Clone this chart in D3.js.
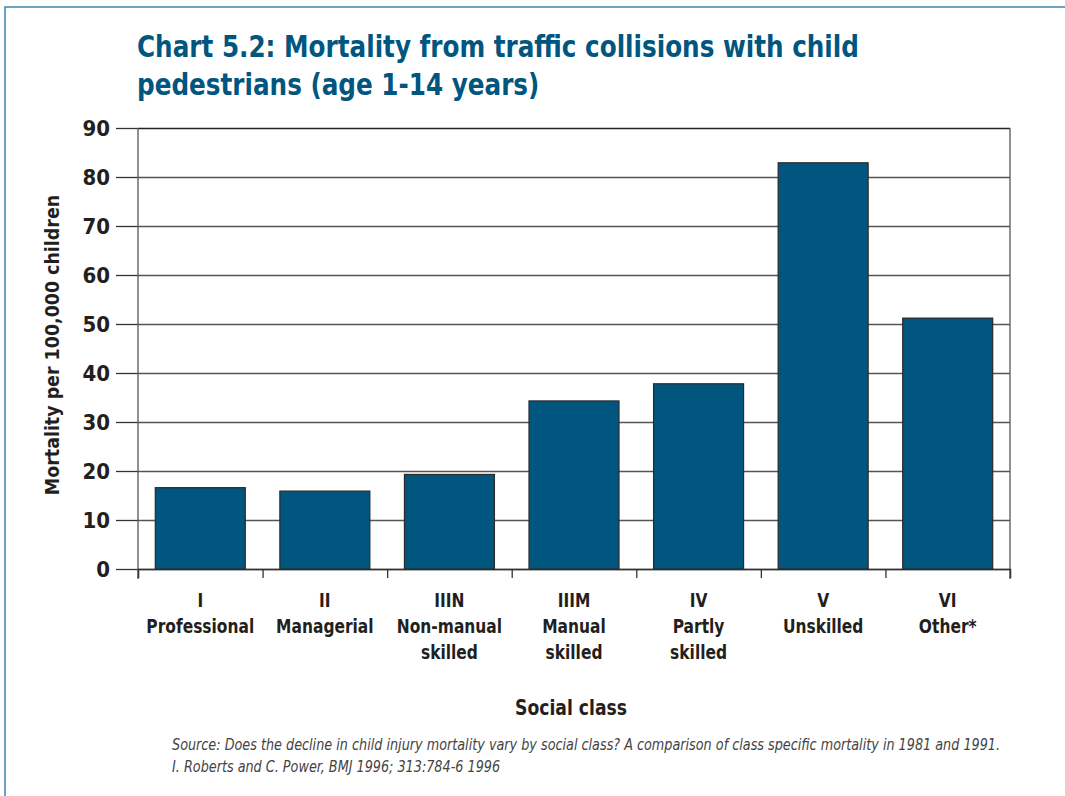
<!DOCTYPE html>
<html><head><meta charset="utf-8">
<script src="https://cdn.jsdelivr.net/npm/d3@7"></script>
<style>
html,body{margin:0;padding:0;background:#fff;}
svg{display:block;}
</style></head>
<body>
<svg id="chart" width="1065" height="796"></svg>
<script>
const classCodes = ["I","II","IIIN","IIIM","IV","V","VI"];
const classNames = [["Professional"],["Managerial"],["Non-manual","skilled"],["Manual","skilled"],["Partly","skilled"],["Unskilled"],["Other*"]];
const mortality = [16.6, 15.9, 19.3, 34.3, 37.8, 82.9, 51.2];
const yTicks = [0,10,20,30,40,50,60,70,80,90];
const titleLines = ["Chart 5.2: Mortality from traffic collisions with child","pedestrians (age 1-14 years)"];
const yTitle = "Mortality per 100,000 children";
const xTitle = "Social class";
const sourceLines = ["Source:  Does the decline in child injury mortality vary by social class? A comparison of class specific mortality in 1981 and 1991.","I. Roberts and C. Power, BMJ 1996; 313:784-6 1996"];

const font = "'DejaVu Sans Condensed','Liberation Sans Narrow',sans-serif";
const blue = "#00567f";
const ink = "#231f20";
const svg = d3.select("#chart");

// frame
svg.append("path").attr("d","M5,800 L5,7 L1070,7").attr("fill","none").attr("stroke","#3d84b0").attr("stroke-width",1.5);

// title
svg.append("g").selectAll("text").data(titleLines).join("text")
  .attr("transform",(d,i)=>`translate(137,${57+i*38}) scale(0.885,1)`)
  .attr("font-family",font).attr("font-weight","bold").attr("font-size",31)
  .attr("fill",blue).text(d=>d);

const L=138, R=1010, T=128, B=569;
const y = d3.scaleLinear().domain([0,90]).range([B,T]);
const x = d3.scaleBand().domain(classCodes).range([L,R]).paddingInner(0.2775).paddingOuter(0.2775/2);
const xb = d3.scaleLinear().domain([0,classCodes.length]).range([L,R]);

// gridlines
const grid = svg.append("g").attr("transform",`translate(${L},0)`)
  .call(d3.axisLeft(y).tickValues(yTicks).tickSize(-(R-L)).tickFormat(""));
grid.select(".domain").remove();
grid.selectAll(".tick line").attr("stroke",d=>d===90?"#222":"#555").attr("stroke-width",1.3);

// left axis ticks + labels
const ya = svg.append("g").attr("transform",`translate(${L},0)`)
  .call(d3.axisLeft(y).tickValues(yTicks).tickSize(22).tickPadding(6));
ya.select(".domain").remove();
ya.selectAll(".tick line").attr("stroke","#333").attr("stroke-width",1.3);
ya.selectAll(".tick text").attr("font-family",font).attr("font-weight","bold").attr("font-size",22).attr("fill",ink).attr("dy","0.36em");

// axis verticals
svg.append("line").attr("x1",L).attr("x2",L).attr("y1",T).attr("y2",B+10).attr("stroke","#555").attr("stroke-width",1.3);
svg.append("line").attr("x1",R).attr("x2",R).attr("y1",T).attr("y2",B+10).attr("stroke","#555").attr("stroke-width",1.3);

// x axis boundary ticks
const xa = svg.append("g").attr("transform",`translate(0,${B})`)
  .call(d3.axisBottom(xb).tickValues(d3.range(classCodes.length+1)).tickSize(9).tickFormat(""));
xa.select(".domain").attr("stroke","#333").attr("stroke-width",1.3);
xa.selectAll(".tick line").attr("stroke","#333").attr("stroke-width",1.3);

// bars
svg.append("g").selectAll("rect").data(mortality).join("rect")
  .attr("x",(d,i)=>x(classCodes[i])).attr("width",x.bandwidth())
  .attr("y",d=>y(d)).attr("height",d=>B-y(d))
  .attr("fill",blue).attr("stroke","#2a2a2a").attr("stroke-width",1.2);

// x labels
const xl = svg.append("g").selectAll("g").data(classCodes).join("g")
  .attr("transform",d=>`translate(${x(d)+x.bandwidth()/2},0) scale(0.86,1)`);
xl.selectAll("text").data((d,i)=>[d].concat(classNames[i])).join("text")
  .attr("x",0).attr("y",(d,j)=>607+j*26).attr("text-anchor","middle")
  .attr("font-family",font).attr("font-weight","bold").attr("font-size",20).attr("fill",ink)
  .text(d=>d);

// axis titles
svg.append("text").attr("transform","translate(59,345) rotate(-90) scale(0.97,1)").attr("text-anchor","middle")
  .attr("font-family",font).attr("font-weight","bold").attr("font-size",20).attr("fill",ink).text(yTitle);
svg.append("text").attr("transform","translate(571,715) scale(0.87,1)").attr("text-anchor","middle")
  .attr("font-family",font).attr("font-weight","bold").attr("font-size",22).attr("fill",ink).text(xTitle);

// source
svg.append("g").selectAll("text").data(sourceLines).join("text")
  .attr("transform",(d,i)=>`translate(172,${750+i*22}) scale(0.95,1)`)
  .attr("font-family",font).attr("font-style","italic").attr("font-size",15).attr("fill","#444")
  .text(d=>d);
</script>
</body></html>
